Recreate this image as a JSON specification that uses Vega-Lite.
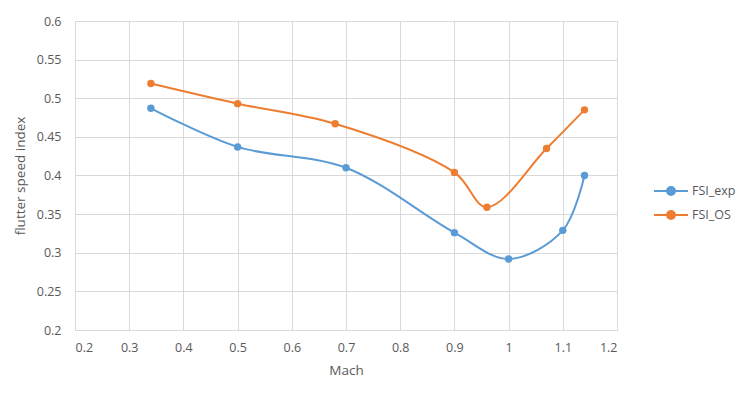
{
  "$schema": "https://vega.github.io/schema/vega-lite/v6.json",
  "autosize": {"type": "none"},
  "width": 542,
  "height": 309,
  "padding": {"left": 75, "top": 21, "right": 133, "bottom": 64},
  "background": "white",
  "config": {
    "view": {"stroke": null},
    "font": "Open Sans",
    "axis": {
      "gridColor": "#d9d9d9",
      "domainColor": "#d9d9d9",
      "ticks": false,
      "labelColor": "#595959",
      "titleColor": "#595959",
      "labelFontSize": 12.5,
      "titleFontSize": 13.5,
      "titleFontWeight": "normal"
    },
    "legend": {
      "labelColor": "#595959",
      "labelFontSize": 12.5
    }
  },
  "data": {
    "values": [
      {"series": "FSI_exp", "mach": 0.34, "fsi": 0.487},
      {"series": "FSI_exp", "mach": 0.5, "fsi": 0.437},
      {"series": "FSI_exp", "mach": 0.7, "fsi": 0.41},
      {"series": "FSI_exp", "mach": 0.9, "fsi": 0.326},
      {"series": "FSI_exp", "mach": 1.0, "fsi": 0.292},
      {"series": "FSI_exp", "mach": 1.1, "fsi": 0.329},
      {"series": "FSI_exp", "mach": 1.14, "fsi": 0.4},
      {"series": "FSI_OS", "mach": 0.34, "fsi": 0.519},
      {"series": "FSI_OS", "mach": 0.5, "fsi": 0.493},
      {"series": "FSI_OS", "mach": 0.68, "fsi": 0.467},
      {"series": "FSI_OS", "mach": 0.9, "fsi": 0.404},
      {"series": "FSI_OS", "mach": 0.96, "fsi": 0.359},
      {"series": "FSI_OS", "mach": 1.07, "fsi": 0.435},
      {"series": "FSI_OS", "mach": 1.14, "fsi": 0.485}
    ]
  },
  "encoding": {
    "x": {
      "field": "mach", "type": "quantitative",
      "scale": {"domain": [0.2, 1.2], "nice": false, "zero": false},
      "axis": {"values": [0.2,0.3,0.4,0.5,0.6,0.7,0.8,0.9,1,1.1,1.2], "format": "~g", "title": "Mach", "labelPadding": 11, "titlePadding": 10}
    },
    "y": {
      "field": "fsi", "type": "quantitative",
      "scale": {"domain": [0.2, 0.6], "nice": false, "zero": false},
      "axis": {"values": [0.2,0.25,0.3,0.35,0.4,0.45,0.5,0.55,0.6], "format": "~g", "title": "flutter speed index", "labelPadding": 14, "titlePadding": 9}
    },
    "color": {
      "field": "series", "type": "nominal",
      "scale": {"domain": ["FSI_exp", "FSI_OS"], "range": ["#5B9BD5", "#ED7D31"]},
      "legend": {
        "title": null,
        "orient": "none",
        "legendX": 585,
        "legendY": 159,
        "symbolType": "M-1.7,0L1.7,0M0.4,0A0.4,0.4 0 1 1 -0.4,0A0.4,0.4 0 1 1 0.4,0",
        "symbolSize": 400,
        "symbolStrokeWidth": 2,
        "rowPadding": 5,
        "labelOffset": 10
      }
    }
  },
  "layer": [
    {"mark": {"type": "line", "interpolate": "catmull-rom", "strokeWidth": 2}},
    {"mark": {"type": "point", "filled": true, "size": 55, "opacity": 1}}
  ]
}
